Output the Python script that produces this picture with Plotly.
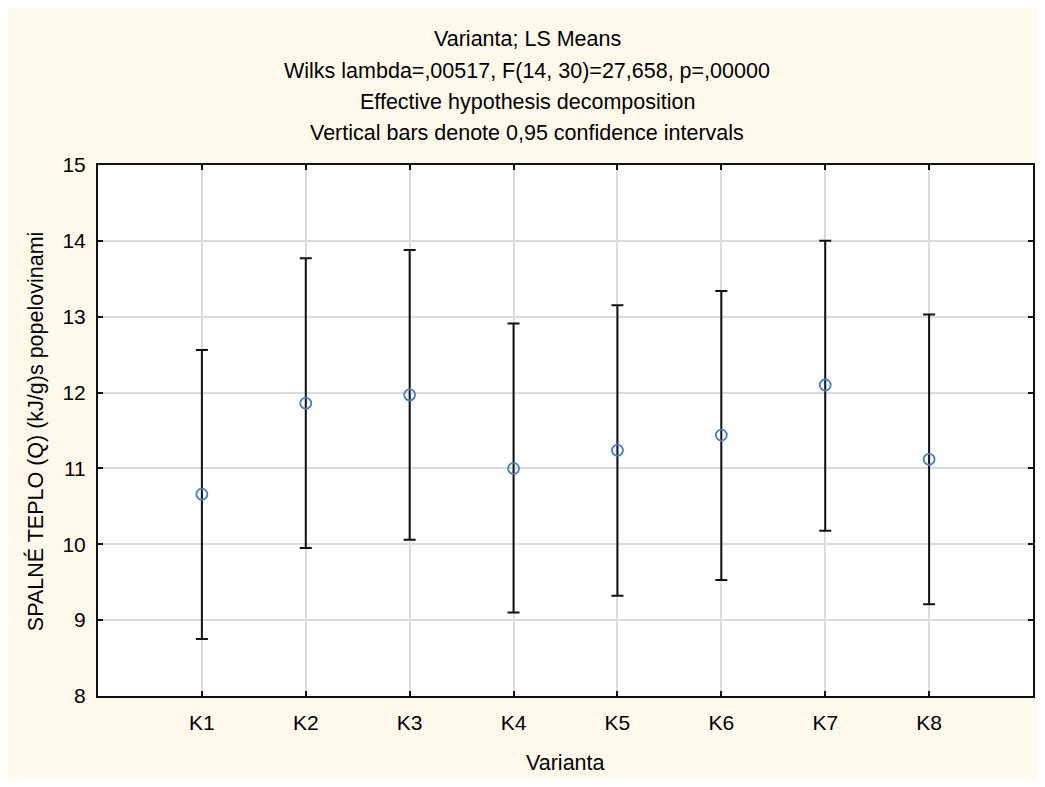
import plotly.graph_objects as go

categories = ["K1", "K2", "K3", "K4", "K5", "K6", "K7", "K8"]
means = [10.66, 11.86, 11.97, 11.00, 11.24, 11.44, 12.10, 11.12]
upper = [12.56, 13.77, 13.88, 12.91, 13.15, 13.34, 14.00, 13.03]
lower = [8.75, 9.95, 10.06, 9.10, 9.32, 9.53, 10.18, 9.21]

title_lines = [
    "Varianta; LS Means",
    "Wilks lambda=,00517, F(14, 30)=27,658, p=,00000",
    "Effective hypothesis decomposition",
    "Vertical bars denote 0,95 confidence intervals",
]
x_title = "Varianta"
y_title = "SPALNÉ TEPLO (Q) (kJ/g)s popelovinami"

xpos = list(range(1, len(categories) + 1))
err_plus = [u - m for u, m in zip(upper, means)]
err_minus = [m - l for m, l in zip(means, lower)]

FONT = "Liberation Sans, Arial, sans-serif"
CREAM = "#FFF9EC"

# page offset of the figure inside the browser (body margin)
OFF = 8
W, H = 1045 - 2 * OFF, 787 - 2 * OFF
ml, mr, mt, mb = 98 - OFF, 2, 165 - OFF, 83
pw, ph = W - ml - mr, H - mt - mb

def px_to_paper_x(ax):
    return (ax - OFF - ml) / pw

def px_to_paper_y(ay):
    return (mt + ph - (ay - OFF)) / ph

fig = go.Figure()
fig.add_trace(go.Scatter(
    x=xpos, y=means, mode="markers",
    marker=dict(symbol="circle-open", size=11, color="#4A7CC4", line=dict(width=1.8, color="#4A7CC4")),
    error_y=dict(type="data", symmetric=False, array=err_plus, arrayminus=err_minus,
                 color="#111111", thickness=2, width=6),
    showlegend=False,
))

annotations = []
for i, t in enumerate(title_lines):
    annotations.append(dict(
        text=t, xref="paper", yref="paper",
        x=px_to_paper_x(528), y=px_to_paper_y(39 + 31.5 * i),
        showarrow=False, font=dict(family=FONT, size=21.5, color="black"),
        xanchor="center", yanchor="middle",
    ))
annotations.append(dict(
    text=x_title, xref="paper", yref="paper",
    x=px_to_paper_x(567), y=px_to_paper_y(763),
    showarrow=False, font=dict(family=FONT, size=21.5, color="black"),
    xanchor="center", yanchor="middle",
))
annotations.append(dict(
    text=y_title, xref="paper", yref="paper", textangle=-90,
    x=px_to_paper_x(36), y=px_to_paper_y(432),
    showarrow=False, font=dict(family=FONT, size=21.5, color="black"),
    xanchor="center", yanchor="middle",
))

axis_common = dict(
    showgrid=True, gridcolor="#DCDCDC", gridwidth=1.5,
    showline=True, linecolor="#111111", linewidth=2, mirror="ticks",
    ticks="inside", ticklen=5, tickwidth=2, tickcolor="#111111",
    zeroline=False,
)

fig.update_layout(
    width=W, height=H,
    margin=dict(l=ml, r=mr, t=mt, b=mb),
    paper_bgcolor=CREAM, plot_bgcolor="white",
    font=dict(family=FONT, size=21, color="black"),
    annotations=annotations,
    xaxis=dict(
        range=[0, 9], tickvals=xpos, ticktext=categories,
        tickfont=dict(family=FONT, size=21, color="black"),
        ticklabelstandoff=7,
        **axis_common,
    ),
    yaxis=dict(
        range=[8, 15], dtick=1, tick0=8,
        tickfont=dict(family=FONT, size=21, color="black"),
        ticklabelstandoff=6,
        **axis_common,
    ),
)

fig.write_html("out.html")
